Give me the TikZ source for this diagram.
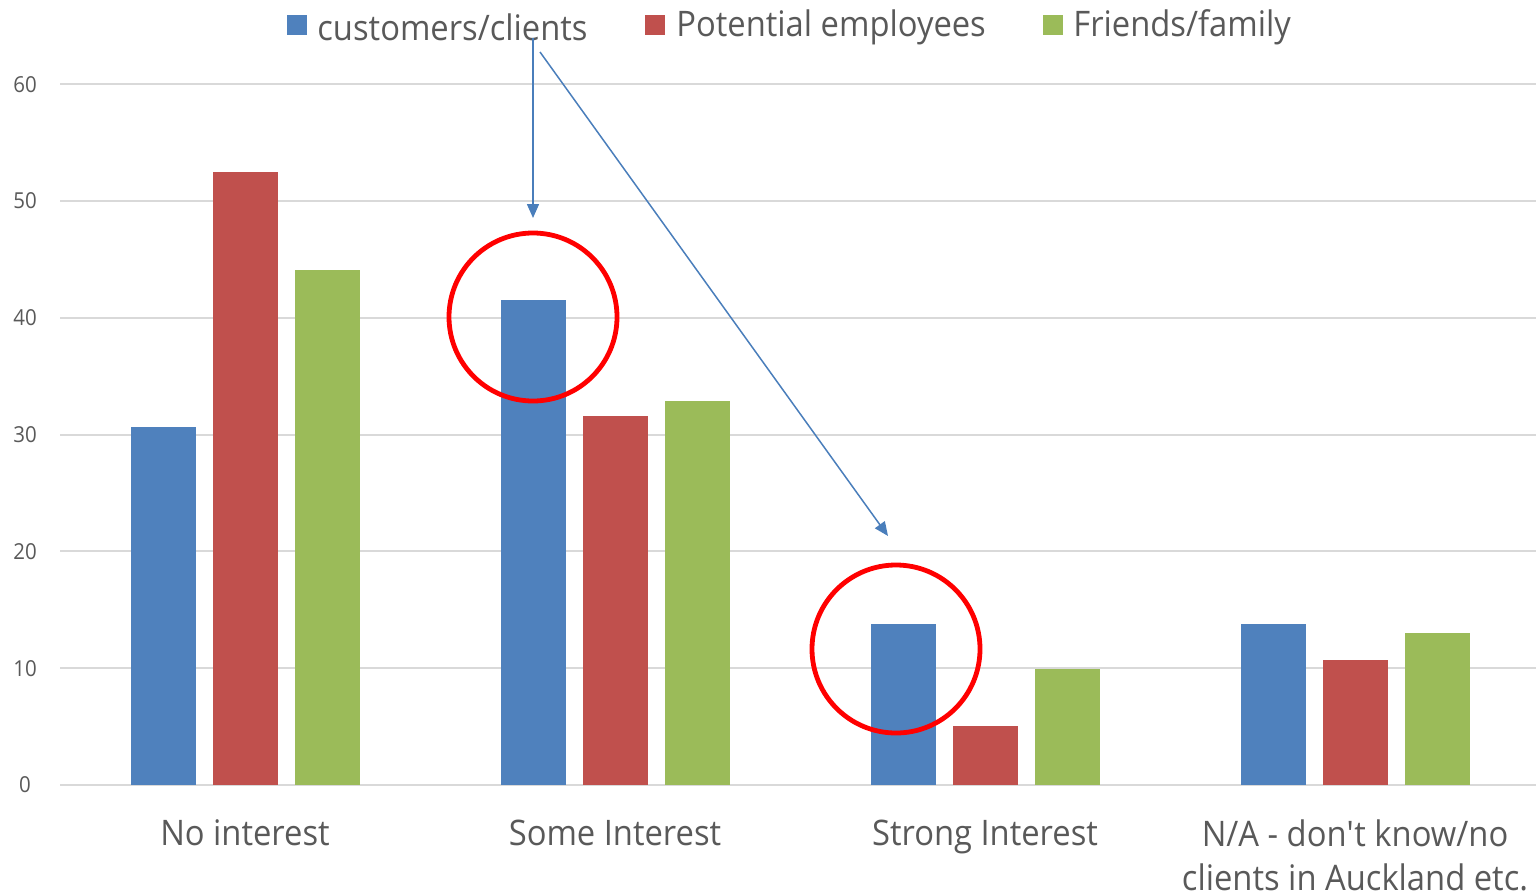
\documentclass[tikz,border=0pt]{standalone}
\usepackage{fontspec}
\setmainfont[FakeStretch=0.93]{Open Sans}
\usetikzlibrary{arrows.meta}
\definecolor{cblue}{HTML}{4F81BD}
\definecolor{cred}{HTML}{C0504D}
\definecolor{cgreen}{HTML}{9BBB59}
\definecolor{cgrid}{HTML}{D9D9D9}
\definecolor{ctext}{HTML}{595959}
\definecolor{carrow}{HTML}{4A7EBB}
\tikzset{
  grid line/.style={draw=cgrid, line width=1pt},
  ylab/.style={text=ctext, font=\fontsize{11}{13}\selectfont, anchor=center},
  catlab/.style={text=ctext, font=\fontsize{17.6}{21.8}\selectfont, align=center, anchor=north},
  leglab/.style={text=ctext, font=\fontsize{17.6}{21}\selectfont, anchor=west, inner sep=0pt},
  legkey/.style={minimum size=10pt, inner sep=0pt, anchor=center},
  ring/.style={circle, draw=red, line width=2.4pt, minimum size=84pt, inner sep=0pt},
  callout/.style={draw=carrow, line width=0.75pt, -{Triangle[length=7pt,width=6pt]}},
}
\begin{document}
\begin{tikzpicture}[x=0.5pt,y=-0.5pt]
\useasboundingbox (0,0) rectangle (1536,894);
% gridlines and y labels
\foreach \v in {0,10,...,60}{
  \pgfmathsetmacro{\yy}{785-11.68*\v}
  \draw[grid line] (60,\yy) -- (1536,\yy);
  \node[ylab] (y\v) at (25,\yy) {\v};
}
% bars
\newcommand{\cbar}[3]{\fill[#1] (#2,785) rectangle ({#2+65},{785-11.68*#3});}
\cbar{cblue}{131}{30.65}
\cbar{cred}{213}{52.5}
\cbar{cgreen}{295}{44.1}
\cbar{cblue}{501}{41.5}
\cbar{cred}{583}{31.6}
\cbar{cgreen}{665}{32.9}
\cbar{cblue}{871}{13.8}
\cbar{cred}{953}{5.05}
\cbar{cgreen}{1035}{9.9}
\cbar{cblue}{1241}{13.8}
\cbar{cred}{1323}{10.7}
\cbar{cgreen}{1405}{13.0}
% category labels
\node[catlab] (c1) at (245,813) {No interest};
\node[catlab] (c2) at (615,813) {Some Interest};
\node[catlab] (c3) at (985,813) {Strong Interest};
\node[catlab] (c4) at (1355,813) {N/A - don\textquotesingle t know/no\\clients in Auckland etc.};
% legend
\node[legkey, fill=cblue] (k1) at (297,25) {};
\node[leglab] (l1) at (317,27) {customers/clients};
\node[legkey, fill=cred] (k2) at (655,25) {};
\node[leglab] (l2) at (676,27) {Potential employees};
\node[legkey, fill=cgreen] (k3) at (1053,25) {};
\node[leglab] (l3) at (1073,27) {Friends/family};
% rings
\node[ring] (r1) at (533,317) {};
\node[ring] (r2) at (896,649) {};
% callout arrows
\coordinate (s1) at (533,38);
\coordinate (e1) at (533,218);
\coordinate (s2) at (540,52);
\coordinate (e2) at (888,536);
\draw[callout] (s1) -- (e1);
\draw[callout] (s2) -- (e2);
\end{tikzpicture}
\end{document}
